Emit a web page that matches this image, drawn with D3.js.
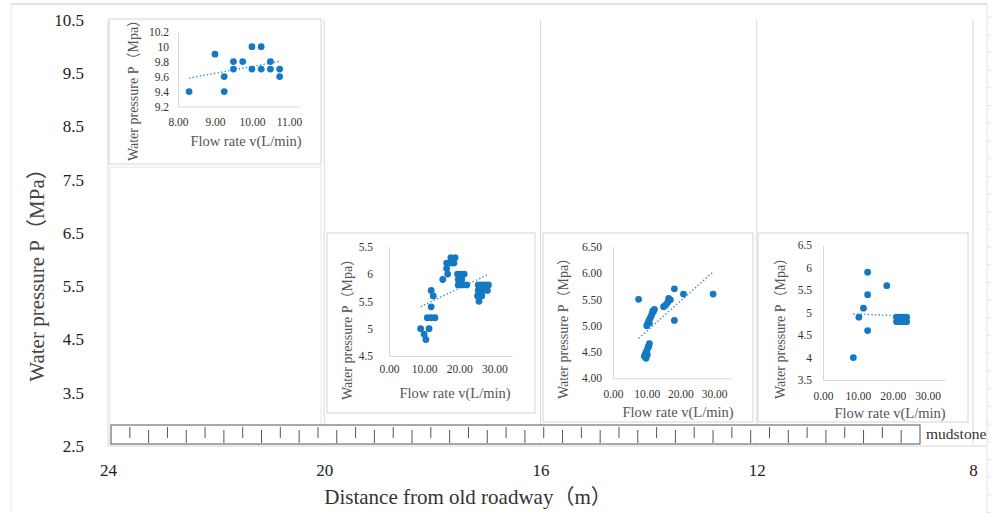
<!DOCTYPE html>
<html>
<head>
<meta charset="utf-8">
<script src="https://cdn.jsdelivr.net/npm/d3@7"></script>
<style>
  body { margin: 0; background: #fff; }
  text { font-family: "Liberation Serif", "Noto Sans CJK SC", serif; }
</style>
</head>
<body>
<div id="chart"></div>
<script>
// Main axes
var distTicks = [24, 20, 16, 12, 8];
var pressTicks = [2.5, 3.5, 4.5, 5.5, 6.5, 7.5, 8.5, 9.5, 10.5];

// Inset 1 (24-20 m)
var flow1 = [8.3, 9.0, 9.25, 9.25, 9.5, 9.5, 9.75, 10.0, 10.0, 10.25, 10.25, 10.5, 10.5, 10.75, 10.75];
var pres1 = [9.4, 9.9, 9.6, 9.4, 9.8, 9.7, 9.8, 10.0, 9.7, 10.0, 9.7, 9.8, 9.7, 9.7, 9.6];
var xTicks1 = [8, 9, 10, 11];
var yTicks1 = [9.2, 9.4, 9.6, 9.8, 10, 10.2];
var yLabels1 = ["9.2", "9.4", "9.6", "9.8", "10", "10.2"];

// Inset 2 (20-16 m)
var flow2 = [9.0, 10.0, 10.5, 11.4, 10.9, 12.0, 13.1, 12.0, 12.0, 12.6, 15.3, 16.4, 16.4, 16.7,
  17.6, 18.8, 17.6, 18.5, 19.5, 20.5, 21.4, 19.7, 20.7, 19.7, 20.9, 22.1,
  25.4, 26.4, 27.3, 28.3, 25.4, 26.8, 28.0, 25.2, 26.4, 25.6];
var pres2 = [5.0, 4.9, 4.8, 5.0, 5.2, 5.2, 5.2, 5.4, 5.7, 5.6, 5.9, 6.2, 6.1, 6.0,
  6.3, 6.3, 6.2, 6.2, 6.0, 6.0, 6.0, 5.9, 5.9, 5.8, 5.8, 5.8,
  5.8, 5.8, 5.8, 5.8, 5.7, 5.7, 5.7, 5.6, 5.6, 5.5];
var xTicks2 = [0, 10, 20, 30];
var yTicks2 = [4.5, 5, 5.5, 6, 6.5];
var yLabels2 = ["4.5", "5", "5.5", "6", "5.5"];

// Inset 3 (16-12 m)
var flow3 = [7.6, 18.2, 20.9, 29.7, 18.2, 16.5, 17.0, 16.2, 15.6, 15.0, 12.3, 12.0, 11.8, 11.6, 11.3,
  11.0, 10.8, 10.6, 10.3, 10.0, 10.8, 10.6, 10.5, 10.3, 10.2, 10.0, 9.6, 9.3, 9.8];
var pres3 = [5.5, 5.7, 5.6, 5.6, 5.1, 5.52, 5.49, 5.44, 5.39, 5.36, 5.31, 5.27, 5.28, 5.23, 5.18,
  5.14, 5.05, 5.09, 5.04, 5.0, 4.66, 4.61, 4.6, 4.57, 4.45, 4.52, 4.47, 4.42, 4.38];
var xTicks3 = [0, 10, 20, 30];
var yTicks3 = [4, 4.5, 5, 5.5, 6, 6.5];

// Inset 4 (12-8 m)
var flow4 = [12.8, 18.3, 12.8, 11.6, 10.3, 12.8, 8.7, 21.1, 21.8, 22.6, 23.3, 24.0, 21.1, 21.8, 22.6, 23.3, 24.0];
var pres4 = [5.9, 5.6, 5.4, 5.1, 4.9, 4.6, 4.0, 4.9, 4.9, 4.9, 4.9, 4.9, 4.8, 4.8, 4.8, 4.8, 4.8];
var xTicks4 = [0, 10, 20, 30];
var yTicks4 = [3.5, 4, 4.5, 5, 5.5, 6, 6.5];
var yLabels4 = ["3.5", "4", "4.5", "5", "5.5", "6", "6.5"];

var svgWidth = 1005;
var svgHeight = 513;
var frameColor = "#d9d9d9";
var dotColor = "#1479c2";

var svg = d3.select("#chart")
  .append("svg")
  .attr("width", svgWidth)
  .attr("height", svgHeight);

// Main scales
var xMain = d3.scaleLinear().domain([24, 8]).range([108, 973]);
var yMain = d3.scaleLinear().domain([2.5, 10.5]).range([446, 20]);

// Outer chart border
svg.append("line").attr("x1", 11).attr("x2", 987).attr("y1", 4).attr("y2", 4)
  .attr("stroke", "#e3e3e3").attr("stroke-width", 2);
svg.append("line").attr("x1", 11).attr("x2", 11).attr("y1", 4).attr("y2", svgHeight)
  .attr("stroke", "#e8e8e8");
svg.append("line").attr("x1", 987).attr("x2", 987).attr("y1", 4).attr("y2", svgHeight)
  .attr("stroke", "#e3e3e3");
svg.selectAll(".edgeTick")
  .data(d3.range(17, svgHeight, 17.7))
  .enter()
  .append("line")
  .attr("x1", 987).attr("x2", 991)
  .attr("y1", d => d).attr("y2", d => d)
  .attr("stroke", "#e3e3e3");

// Plot area frame: vertical lines at the distance ticks
svg.selectAll(".divider")
  .data(distTicks)
  .enter()
  .append("line")
  .attr("x1", d => xMain(d)).attr("x2", d => xMain(d))
  .attr("y1", yMain(10.5)).attr("y2", yMain(2.5))
  .attr("stroke", frameColor);
svg.append("line")
  .attr("x1", xMain(24)).attr("x2", 987)
  .attr("y1", yMain(2.5)).attr("y2", yMain(2.5))
  .attr("stroke", frameColor);
svg.append("rect")
  .attr("x", 110).attr("y", 167).attr("width", 211).attr("height", 279)
  .attr("fill", "none").attr("stroke", "#e6e6e6");

// Main y axis labels
var leftAxis = d3.axisLeft(yMain).tickValues(pressTicks).tickSize(0).tickPadding(0)
  .tickFormat(d3.format(".1f"));
var yAxis = svg.append("g").attr("transform", "translate(84,0)").call(leftAxis);
yAxis.select(".domain").remove();
yAxis.selectAll("text").attr("font-size", 17).attr("fill", "#222")
  .style("font-family", "Liberation Serif");

// Main x axis labels
var bottomAxis = d3.axisBottom(xMain).tickValues(distTicks).tickSize(0).tickPadding(18);
var xAxis = svg.append("g").attr("transform", `translate(0, ${yMain(2.5)})`).call(bottomAxis);
xAxis.select(".domain").remove();
xAxis.selectAll("text").attr("font-size", 17).attr("fill", "#222")
  .style("font-family", "Liberation Serif");

// Axis titles
svg.append("text")
  .attr("transform", "translate(44,270) rotate(-90)")
  .attr("text-anchor", "middle")
  .attr("font-size", 21)
  .attr("fill", "#444")
  .text("Water pressure P（MPa）");

svg.append("text")
  .attr("x", 468).attr("y", 504)
  .attr("text-anchor", "middle")
  .attr("font-size", 21)
  .attr("fill", "#333")
  .text("Distance from old roadway（m）");

// Mudstone strip
var barX0 = 111, barX1 = 920, barY0 = 425, barY1 = 444;
svg.append("rect")
  .attr("x", barX0).attr("y", barY0)
  .attr("width", barX1 - barX0).attr("height", barY1 - barY0)
  .attr("fill", "#fff").attr("stroke", "#555");
var nStrokes = 42;
var strokeX = d3.scaleLinear().domain([0, nStrokes + 1]).range([barX0, barX1]);
svg.selectAll(".mud")
  .data(d3.range(1, nStrokes + 1))
  .enter()
  .append("line")
  .attr("x1", d => strokeX(d)).attr("x2", d => strokeX(d))
  .attr("y1", d => d % 2 ? barY0 + 2 : barY0 + 5)
  .attr("y2", d => d % 2 ? barY1 - 6 : barY1 - 1)
  .attr("stroke", "#555");
svg.append("text")
  .attr("x", 926).attr("y", 439)
  .attr("font-size", 15.5)
  .attr("fill", "#333")
  .text("mudstone");

// Linear trend line from the data
function trend(xs, ys) {
  var mx = d3.mean(xs), my = d3.mean(ys);
  var sxy = d3.sum(xs, (v, i) => (v - mx) * (ys[i] - my));
  var sxx = d3.sum(xs, v => (v - mx) * (v - mx));
  var b = sxy / sxx;
  return v => my + b * (v - mx);
}

var insetId = 0;
function drawInset(cfg, flow, pres) {
  insetId += 1;
  var g = svg.append("g");
  g.append("rect")
    .attr("x", cfg.box[0]).attr("y", cfg.box[1])
    .attr("width", cfg.box[2]).attr("height", cfg.box[3])
    .attr("fill", "#fff").attr("stroke", "#d4d4d4");

  g.append("clipPath").attr("id", "clip" + insetId)
    .append("rect")
    .attr("x", cfg.box[0] + 1).attr("y", cfg.box[1] + 1)
    .attr("width", cfg.box[2] - 2).attr("height", cfg.box[3] - 2);

  var x = d3.scaleLinear().domain(cfg.xDomain).range(cfg.xRange);
  var y = d3.scaleLinear().domain(cfg.yDomain).range(cfg.yRange);

  var ax = g.append("g")
    .attr("transform", `translate(0, ${cfg.yRange[0]})`)
    .call(d3.axisBottom(x).tickValues(cfg.xTicks).tickSize(0).tickSizeOuter(0)
      .tickPadding(cfg.xPad).tickFormat(d3.format(".2f")));
  var ay = g.append("g")
    .attr("transform", `translate(${cfg.xRange[0]}, 0)`)
    .call(d3.axisLeft(y).tickValues(cfg.yTicks).tickSize(0).tickSizeOuter(0)
      .tickPadding(cfg.yPad)
      .tickFormat((d, i) => cfg.yLabels ? cfg.yLabels[i] : d3.format(".2f")(d)));
  [ax, ay].forEach(function(a) {
    a.select(".domain").attr("stroke", "#d9d9d9");
    a.selectAll("text").attr("font-size", 11.5).attr("fill", "#333")
      .style("font-family", "Liberation Serif");
  });

  // dotted trend line
  var f = trend(flow, pres);
  var x0 = d3.min(flow), x1 = d3.max(flow);
  g.append("line")
    .attr("x1", x(x0)).attr("y1", y(f(x0)))
    .attr("x2", x(x1)).attr("y2", y(f(x1)))
    .attr("stroke", "#3a8cc4")
    .attr("stroke-width", 1.4)
    .attr("stroke-dasharray", "1.4,2.2");

  g.selectAll(".dot")
    .data(flow)
    .enter()
    .append("circle")
    .attr("cx", d => x(d))
    .attr("cy", (d, i) => y(pres[i]))
    .attr("r", 3.4)
    .attr("fill", dotColor);

  var titles = g.append("g").attr("clip-path", `url(#clip${insetId})`);
  titles.append("text")
    .attr("transform", `translate(${cfg.yTitle[0]}, ${cfg.yTitle[1]}) rotate(-90)`)
    .attr("text-anchor", "middle")
    .attr("dy", "0.35em")
    .attr("font-size", 14)
    .attr("fill", "#555")
    .text("Water pressure P（Mpa）");
  titles.append("text")
    .attr("x", cfg.xTitle[0]).attr("y", cfg.xTitle[1])
    .attr("text-anchor", "middle")
    .attr("dy", "0.35em")
    .attr("font-size", 14.5)
    .attr("fill", "#555")
    .text("Flow rate v(L/min)");
}

drawInset({
  box: [109, 19, 212, 145], xRange: [178, 300], yRange: [106.5, 31.7],
  xDomain: [8, 11.3], yDomain: [9.2, 10.2], xTicks: xTicks1, yTicks: yTicks1, yLabels: yLabels1,
  xPad: 11, yPad: 9, yTitle: [133, 87], xTitle: [246, 141]
}, flow1, pres1);

drawInset({
  box: [327, 233, 208, 180], xRange: [389, 512], yRange: [356, 246.7],
  xDomain: [0, 35], yDomain: [4.5, 6.5], xTicks: xTicks2, yTicks: yTicks2, yLabels: yLabels2,
  xPad: 9, yPad: 16, yTitle: [347, 326], xTitle: [455, 393]
}, flow2, pres2);

drawInset({
  box: [543, 233, 210, 189], xRange: [613, 731], yRange: [378.3, 246.7],
  xDomain: [0, 35], yDomain: [4, 6.5], xTicks: xTicks3, yTicks: yTicks3, yLabels: null,
  xPad: 12, yPad: 11, yTitle: [563, 325], xTitle: [678, 412]
}, flow3, pres3);

drawInset({
  box: [758, 233, 210, 189], xRange: [823, 945], yRange: [380, 245.3],
  xDomain: [0, 35], yDomain: [3.5, 6.5], xTicks: xTicks4, yTicks: yTicks4, yLabels: yLabels4,
  xPad: 12, yPad: 11, yTitle: [780, 325], xTitle: [890, 413]
}, flow4, pres4);
</script>
</body>
</html>
